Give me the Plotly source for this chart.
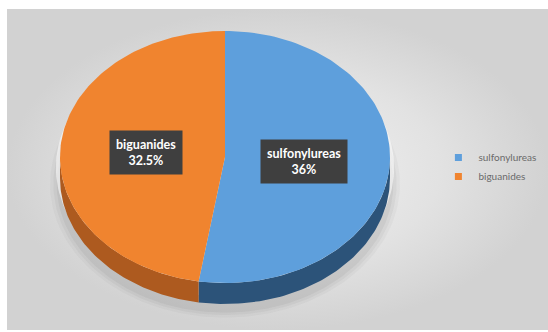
import numpy as np
import plotly.graph_objects as go

# Data
categories = ["sulfonylureas", "biguanides"]
values = [36, 32.5]
value_labels = ["36%", "32.5%"]
top_colors = ["#5e9fdc", "#f0842f"]
side_colors = ["#2c5379", "#ad5a1f"]

# Geometry of the tilted pie (pixel space)
W, H = 548, 332
cx, cy = 225, 157
rx, ry = 165, 126
depth = 21


def ell(theta_deg, dy=0.0, scale=1.0):
    t = np.radians(theta_deg)
    return cx + rx * scale * np.sin(t), cy - ry * scale * np.cos(t) + dy


fig = go.Figure()

# Panel background with soft radial gradient
fig.add_trace(go.Scatter(
    x=[7, W, W, 7, 7], y=[9, 9, 330, 330, 9], mode="lines", fill="toself",
    line=dict(width=0), hoverinfo="skip", showlegend=False,
    fillgradient=dict(type="radial", colorscale=[[0, "#f2f2f2"], [0.6, "#e2e2e2"], [1, "#d2d2d2"]]),
))

# Soft shadow under the pie
for sc, op in [(1.06, 0.05), (1.04, 0.06), (1.02, 0.08)]:
    th = np.linspace(0, 360, 200)
    sx, sy = ell(th, dy=depth + 6, scale=sc)
    fig.add_trace(go.Scatter(x=sx, y=sy, mode="lines", fill="toself",
                             fillcolor=f"rgba(90,90,90,{op})", line=dict(width=0),
                             hoverinfo="skip", showlegend=False))
# light halo around the rim
th = np.linspace(0, 360, 200)
hx, hy = ell(th, dy=depth / 2, scale=1.025)
fig.add_trace(go.Scatter(x=hx, y=hy, mode="lines", fill="toself",
                         fillcolor="rgba(255,255,255,0.55)", line=dict(width=0),
                         hoverinfo="skip", showlegend=False))

# Slice angles (clockwise from 12 o'clock)
total = sum(values)
bounds = np.concatenate([[0], np.cumsum(values) / total * 360])

# Side walls (only the front half, 90..270 deg, is visible)
for i in range(len(values)):
    a0, a1 = max(bounds[i], 90), min(bounds[i + 1], 270)
    if a1 <= a0:
        continue
    th = np.linspace(a0, a1, 80)
    ux, uy = ell(th)
    lx, ly = ell(th[::-1], dy=depth)
    fig.add_trace(go.Scatter(x=np.concatenate([ux, lx, ux[:1]]),
                             y=np.concatenate([uy, ly, uy[:1]]),
                             mode="lines", fill="toself", fillcolor=side_colors[i],
                             line=dict(width=0), hoverinfo="skip", showlegend=False))

# Top faces
for i in range(len(values)):
    th = np.linspace(bounds[i], bounds[i + 1], 120)
    px, py = ell(th)
    fig.add_trace(go.Scatter(x=np.concatenate([[cx], px, [cx]]),
                             y=np.concatenate([[cy], py, [cy]]),
                             mode="lines", fill="toself", fillcolor=top_colors[i],
                             line=dict(width=0), hoverinfo="skip", showlegend=False))

# Legend entries
for i, name in enumerate(categories):
    fig.add_trace(go.Scatter(x=[None], y=[None], mode="markers", name=name,
                             marker=dict(symbol="square", size=7, color=top_colors[i])))

# Data labels at the mid-angle of each slice
for i in range(len(values)):
    mid = (bounds[i] + bounds[i + 1]) / 2
    lx, ly = ell(mid, scale=0.48)
    fig.add_annotation(x=lx, y=ly, xref="x", yref="y", showarrow=False,
                       text=f"<b>{categories[i]}<br>{value_labels[i]}</b>",
                       font=dict(family="Lato, sans-serif", size=12.5, color="white"),
                       bgcolor="#3f3f3f", borderpad=6, align="center")

fig.update_layout(
    width=W, height=H, margin=dict(l=0, r=0, t=0, b=0),
    paper_bgcolor="white", plot_bgcolor="white",
    xaxis=dict(range=[0, W], visible=False, fixedrange=True),
    yaxis=dict(range=[H, 0], visible=False, fixedrange=True),
    legend=dict(x=0.8, y=0.497, xanchor="left", yanchor="middle",
                bgcolor="rgba(0,0,0,0)", font=dict(family="Lato, sans-serif", size=10, color="#6a6a6a"),
                itemwidth=30),
    showlegend=True,
)

fig.write_html("out.html")
